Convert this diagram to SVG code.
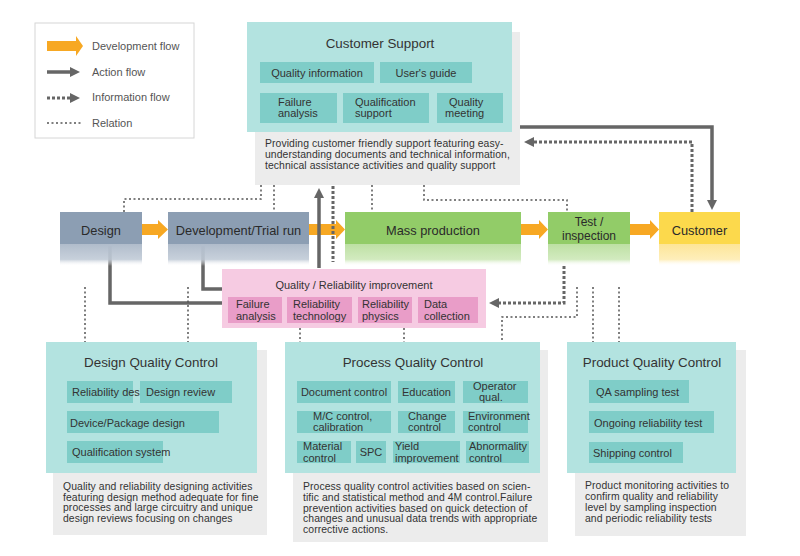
<svg xmlns="http://www.w3.org/2000/svg" width="800" height="556" viewBox="0 0 800 556">
<style>
text{font-family:"Liberation Sans",Arial,sans-serif;fill:#333}
.lg{font-size:11px;fill:#555}
.ttl{font-size:13.4px;text-anchor:middle}
.sb{font-size:11px}
.c{text-anchor:middle}
.ds{font-size:10.4px;letter-spacing:0.08px}
.mn{font-size:12.8px;text-anchor:middle;fill:#2a2a2a}
.mn2{font-size:12px;text-anchor:middle;fill:#2a2a2a}
.shadow{fill:#ececec}
.teal{fill:#b3e3e0}
.tin{fill:#7fcdc8}
.pink{fill:#f6cbe2}
.pin{fill:#e99dc8}
.orange{fill:#f7a823}
.act{fill:none;stroke:#666;stroke-width:3.5}
.inf{fill:none;stroke:#666;stroke-width:3;stroke-dasharray:3 2}
.rel{fill:none;stroke:#555;stroke-width:1.5;stroke-dasharray:2 2.5}
</style>
<defs>
<marker id="ah" viewBox="0 0 10 10" refX="6" refY="5" markerWidth="10" markerHeight="10" markerUnits="userSpaceOnUse" orient="auto"><path d="M0,0 L10,5 L0,10 z" fill="#666"/></marker>
<linearGradient id="gD" x1="0" y1="0" x2="0" y2="1"><stop offset="0" stop-color="#b0bccb"/><stop offset="0.7" stop-color="#c1cbd7" stop-opacity="0.9"/><stop offset="1" stop-color="#ffffff" stop-opacity="0"/></linearGradient>
<linearGradient id="gG" x1="0" y1="0" x2="0" y2="1"><stop offset="0" stop-color="#bde0a3"/><stop offset="0.7" stop-color="#cde8b8" stop-opacity="0.9"/><stop offset="1" stop-color="#ffffff" stop-opacity="0"/></linearGradient>
<linearGradient id="gY" x1="0" y1="0" x2="0" y2="1"><stop offset="0" stop-color="#fde597"/><stop offset="0.7" stop-color="#feecb2" stop-opacity="0.9"/><stop offset="1" stop-color="#ffffff" stop-opacity="0"/></linearGradient>
</defs>
<rect width="800" height="556" fill="#fff"/>

<g id="legend">
<rect x="35" y="23" width="159" height="115" fill="#fff" stroke="#d6d6d6"/>
<path class="orange" d="M47,41 H76 V36 L83,46 L76,56 V51 H47 z"/>
<line class="act" x1="47" y1="72" x2="76" y2="72" marker-end="url(#ah)"/>
<line class="inf" x1="47" y1="98" x2="76" y2="98" marker-end="url(#ah)"/>
<line class="rel" x1="47" y1="123" x2="83" y2="123"/>
<text class="lg" x="92" y="50">Development flow</text>
<text class="lg" x="92" y="76">Action flow</text>
<text class="lg" x="92" y="101">Information flow</text>
<text class="lg" x="92" y="127">Relation</text>
</g>

<g id="connectors">
<path class="orange" d="M142,224 H158 V220 L168,229.5 L158,239 V235 H142 z"/>
<path class="orange" d="M309,224 H336 V220 L345,229.5 L336,239 V235 H309 z"/>
<path class="orange" d="M521,224 H539 V220 L548,229.5 L539,239 V235 H521 z"/>
<path class="orange" d="M630,224 H650 V220 L659,229.5 L650,239 V235 H630 z"/>
<path class="rel" d="M124,212 V199 H261 V185"/>
<path class="rel" d="M274,185 V212"/>
<path class="rel" d="M372,185 V212"/>
<path class="rel" d="M424,185 V200 H567 V212"/>
<path class="act" d="M319,268 V192" marker-end="url(#ah)"/>
<path class="inf" d="M333,186 V262"/>
<path class="act" d="M520,127 H712 V206" marker-end="url(#ah)"/>
<path class="inf" d="M692,212 V142 H528" marker-end="url(#ah)"/>
<path class="act" d="M110,246 V303 H222"/>
<path class="act" d="M203,246 V289 H222"/>
<path class="rel" d="M85,287 V342"/>
<path class="rel" d="M188,287 V342"/>
<path class="rel" d="M300,328 V342"/>
<path class="rel" d="M404,328 V342"/>
<path class="inf" d="M564,266 V303 H493" marker-end="url(#ah)"/>
<path class="rel" d="M577,287 V317 H502 V342"/>
<path class="rel" d="M593,287 V342"/>
<path class="rel" d="M619,287 V342"/>
</g>

<g id="customer-support">
<rect class="shadow" x="255" y="32" width="265" height="153"/>
<rect class="teal" x="247" y="22" width="265" height="110"/>
<text class="ttl" x="380" y="47.5">Customer Support</text>
<rect class="tin" x="260" y="62" width="114" height="21"/>
<rect class="tin" x="380" y="62" width="92" height="21"/>
<rect class="tin" x="260" y="93" width="77" height="30"/>
<rect class="tin" x="343" y="93" width="86" height="30"/>
<rect class="tin" x="437" y="93" width="66" height="30"/>
<text class="sb c" x="317" y="76.5">Quality information</text>
<text class="sb c" x="426" y="76.5">User's guide</text>
<text class="sb" x="278" y="106">Failure</text><text class="sb" x="278" y="117">analysis</text>
<text class="sb" x="355" y="106">Qualification</text><text class="sb" x="355" y="117">support</text>
<text class="sb" x="449" y="106">Quality</text><text class="sb" x="445" y="117">meeting</text>
<text class="ds" x="265" y="147">Providing customer friendly support featuring easy-</text>
<text class="ds" x="265" y="158">understanding documents and technical information,</text>
<text class="ds" x="265" y="169">technical assistance activities and quality support</text>
</g>

<g id="design">
<rect x="60" y="212" width="82" height="32" fill="#8c9eb3"/>
<rect x="60" y="244" width="82" height="22" fill="url(#gD)"/>
<text class="mn" x="101" y="234.5">Design</text>
</g>
<g id="development">
<rect x="168" y="212" width="141" height="32" fill="#8c9eb3"/>
<rect x="168" y="244" width="141" height="22" fill="url(#gD)"/>
<text class="mn" x="238.5" y="234.5">Development/Trial run</text>
</g>
<g id="mass-production">
<rect x="345" y="212" width="176" height="32" fill="#92cc68"/>
<rect x="345" y="244" width="176" height="22" fill="url(#gG)"/>
<text class="mn" x="433" y="234.5">Mass production</text>
</g>
<g id="test-inspection">
<rect x="548" y="212" width="82" height="32" fill="#92cc68"/>
<rect x="548" y="244" width="82" height="22" fill="url(#gG)"/>
<text class="mn2" x="589" y="226">Test /</text>
<text class="mn2" x="589" y="239.5">inspection</text>
</g>
<g id="customer">
<rect x="659" y="212" width="81" height="32" fill="#fcd94c"/>
<rect x="659" y="244" width="81" height="22" fill="url(#gY)"/>
<text class="mn" x="699.5" y="235">Customer</text>
</g>

<g id="quality-reliability-improvement">
<rect class="pink" x="222" y="269" width="264" height="59"/>
<text class="sb c" x="354" y="289">Quality / Reliability improvement</text>
<rect class="pin" x="228" y="297" width="54" height="26"/>
<rect class="pin" x="287" y="297" width="65" height="26"/>
<rect class="pin" x="358" y="297" width="54" height="26"/>
<rect class="pin" x="418" y="297" width="60" height="26"/>
<text class="sb" x="236" y="308">Failure</text><text class="sb" x="236" y="319.5">analysis</text>
<text class="sb" x="293" y="308">Reliability</text><text class="sb" x="293" y="319.5">technology</text>
<text class="sb" x="362" y="308">Reliability</text><text class="sb" x="362" y="319.5">physics</text>
<text class="sb" x="424" y="308">Data</text><text class="sb" x="424" y="319.5">collection</text>
</g>

<g id="design-quality-control">
<rect class="shadow" x="53" y="350" width="214" height="185"/>
<rect class="teal" x="46" y="342" width="211" height="131"/>
<text class="ttl" x="151" y="366.5">Design Quality Control</text>
<rect class="tin" x="67" y="381" width="66" height="22"/>
<text class="sb" x="72" y="396">Reliability design</text>
<rect class="tin" x="140" y="381" width="92" height="22"/>
<text class="sb" x="146" y="396">Design review</text>
<rect class="tin" x="67" y="411" width="152" height="22"/>
<text class="sb" x="70" y="426.5">Device/Package design</text>
<rect class="tin" x="67" y="441" width="96" height="22"/>
<text class="sb" x="72" y="456">Qualification system</text>
<text class="ds" x="63" y="490">Quality and reliability designing activities</text>
<text class="ds" x="63" y="500.5">featuring design method adequate for fine</text>
<text class="ds" x="63" y="511">processes and large circuitry and unique</text>
<text class="ds" x="63" y="521.5">design reviews focusing on changes</text>
</g>

<g id="process-quality-control">
<rect class="shadow" x="293" y="350" width="255" height="192"/>
<rect class="teal" x="285" y="342" width="255" height="131"/>
<text class="ttl" x="413" y="366.5">Process Quality Control</text>
<rect class="tin" x="297" y="381" width="94" height="22"/>
<rect class="tin" x="398" y="381" width="57" height="22"/>
<rect class="tin" x="463" y="381" width="65" height="22"/>
<rect class="tin" x="297" y="411" width="94" height="22"/>
<rect class="tin" x="398" y="411" width="57" height="22"/>
<rect class="tin" x="463" y="411" width="65" height="22"/>
<rect class="tin" x="297" y="441" width="54" height="22"/>
<rect class="tin" x="356" y="441" width="30" height="22"/>
<rect class="tin" x="393" y="441" width="67" height="22"/>
<rect class="tin" x="466" y="441" width="63" height="22"/>
<text class="sb c" x="344" y="396">Document control</text>
<text class="sb c" x="426.5" y="396">Education</text>
<text class="sb" x="473" y="390">Operator</text><text class="sb" x="479" y="401">qual.</text>
<text class="sb" x="313" y="420">M/C control,</text><text class="sb" x="313" y="431">calibration</text>
<text class="sb" x="408" y="420">Change</text><text class="sb" x="408" y="431">control</text>
<text class="sb" x="468" y="420">Environment</text><text class="sb" x="468" y="431">control</text>
<text class="sb" x="303" y="450">Material</text><text class="sb" x="303" y="461.5">control</text>
<text class="sb c" x="371" y="456">SPC</text>
<text class="sb" x="395" y="450">Yield</text><text class="sb" x="395" y="461.5">improvement</text>
<text class="sb" x="469" y="450">Abnormality</text><text class="sb" x="469" y="461.5">control</text>
<text class="ds" x="303" y="490">Process quality control activities based on scien-</text>
<text class="ds" x="303" y="501">tific and statistical method and 4M control.Failure</text>
<text class="ds" x="303" y="511.5">prevention activities based on quick detection of</text>
<text class="ds" x="303" y="522">changes and unusual data trends with appropriate</text>
<text class="ds" x="303" y="532.5">corrective actions.</text>
</g>

<g id="product-quality-control">
<rect class="shadow" x="575" y="350" width="171" height="186"/>
<rect class="teal" x="567" y="342" width="169" height="131"/>
<text class="ttl" x="652" y="366.5">Product Quality Control</text>
<rect class="tin" x="589" y="380" width="100" height="23"/>
<rect class="tin" x="589" y="411" width="125" height="22"/>
<rect class="tin" x="589" y="442" width="94" height="21"/>
<text class="sb" x="596" y="396">QA sampling test</text>
<text class="sb" x="594" y="427">Ongoing reliability test</text>
<text class="sb" x="593" y="457">Shipping control</text>
<text class="ds" x="585" y="489">Product monitoring activities to</text>
<text class="ds" x="585" y="500">confirm quality and reliability</text>
<text class="ds" x="585" y="511">level by sampling inspection</text>
<text class="ds" x="585" y="521.5">and periodic reliability tests</text>
</g>
</svg>
